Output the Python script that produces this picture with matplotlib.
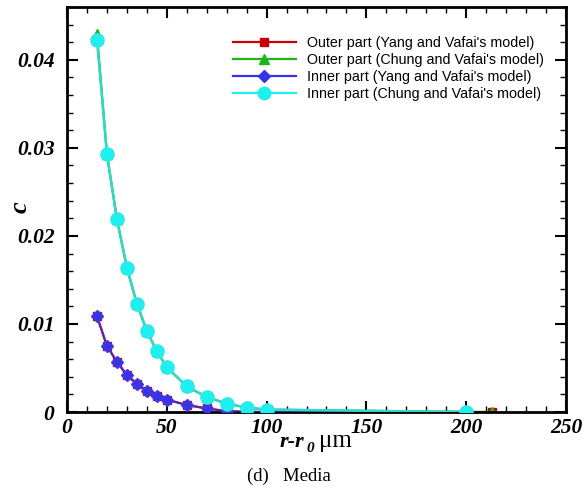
import matplotlib
matplotlib.use("Agg")
import matplotlib.pyplot as plt
from matplotlib.lines import Line2D
from matplotlib.ticker import MultipleLocator, FuncFormatter

# ---- data ----
x_inner_yang = [15, 20, 25, 30, 35, 40, 45, 50, 60, 70, 80, 90, 100, 200]
c_inner_yang = [0.0109, 0.0075, 0.0057, 0.0042, 0.0032, 0.0024, 0.0018, 0.0014,
                0.0008, 0.0004, 0.0001, 0.00002, 0.0, 0.0]
x_outer_yang = [15, 20, 25, 30, 35, 40, 45, 50, 60, 70, 80, 90, 100, 200, 213]
c_outer_yang = [0.0109, 0.0075, 0.0057, 0.0042, 0.0032, 0.0024, 0.0018, 0.0014,
                0.0008, 0.0004, 0.0001, 0.00002, 0.0, 0.0, 0.0]
x_inner_chung = [15, 20, 25, 30, 35, 40, 45, 50, 60, 70, 80, 90, 100, 200]
c_inner_chung = [0.0423, 0.0293, 0.0219, 0.0164, 0.0123, 0.0092, 0.0069, 0.0051,
                 0.0029, 0.0017, 0.00095, 0.0005, 0.00027, 0.0]
x_outer_chung = [15, 20, 25, 30, 35, 40, 45, 50, 60, 70, 80, 90, 100, 200, 213]
c_outer_chung = [0.0429, 0.0293, 0.0219, 0.0164, 0.0123, 0.0092, 0.0069, 0.0051,
                 0.0029, 0.0017, 0.00095, 0.0005, 0.00027, 0.0, 0.0]

labels = ["Outer part (Yang and Vafai's model)",
          "Outer part (Chung and Vafai's model)",
          "Inner part (Yang and Vafai's model)",
          "Inner part (Chung and Vafai's model)"]
colors = ["#c80000", "#1eb41e", "#3a32e6", "#1ef0f0"]

W, H = 586, 496
fig = plt.figure(figsize=(W / 100, H / 100), dpi=100)
ax = fig.add_axes([67 / W, 1 - 412 / H, (566 - 67) / W, (412 - 7) / H])

ax.plot(x_outer_yang, c_outer_yang, color=colors[0], lw=1.6, marker="s", ms=6, zorder=2)
ax.plot(x_outer_chung, c_outer_chung, color=colors[1], lw=1.6, marker="^", ms=7, zorder=2.5)
ax.plot(x_inner_yang, c_inner_yang, color=colors[2], lw=1.6, alpha=0.75, zorder=3)
ax.plot(x_inner_yang, c_inner_yang, ls="none", marker="D", ms=6.5, color=colors[2],
        markeredgecolor="#3c3ce8", zorder=4)
ax.plot(x_inner_chung, c_inner_chung, color="#30d8c8", lw=1.8, zorder=3)
ax.plot(x_inner_chung, c_inner_chung, ls="none", marker="o", ms=9.5, color=colors[3],
        markeredgecolor="#30e8e8", zorder=4)

ax.set_xlim(0, 250)
ax.set_ylim(0, 0.046)
ax.xaxis.set_major_locator(MultipleLocator(50))
ax.xaxis.set_minor_locator(MultipleLocator(10))
ax.yaxis.set_major_locator(MultipleLocator(0.01))
ax.yaxis.set_minor_locator(MultipleLocator(0.002))

def yfmt(v, pos):
    if abs(v) < 1e-12:
        return "0"
    return "%.2f" % v

ax.yaxis.set_major_formatter(FuncFormatter(yfmt))
ax.xaxis.set_major_formatter(FuncFormatter(lambda v, p: "%d" % v))

ax.tick_params(which="both", direction="in", top=True, right=True, color="black")
ax.tick_params(which="major", length=8, width=1.5)
ax.tick_params(axis="y", which="major", pad=9)
ax.tick_params(axis="x", which="major", pad=4)
ax.tick_params(which="minor", length=4, width=1.0)
for lab in ax.get_xticklabels() + ax.get_yticklabels():
    lab.set_fontfamily("Liberation Serif")
    lab.set_fontweight("bold")
    lab.set_fontstyle("italic")
    lab.set_fontsize(15.5)
for sp in ax.spines.values():
    sp.set_linewidth(2)

# y label
fig.text(20 / W, 1 - 207 / H, "c", fontfamily="Liberation Serif", fontweight="bold",
         fontstyle="italic", fontsize=19, rotation=90, va="center", ha="center")

handles = [Line2D([], [], color=colors[0], lw=1.6, marker="s", ms=6),
           Line2D([], [], color=colors[1], lw=1.6, marker="^", ms=6.5),
           Line2D([], [], color=colors[2], lw=1.6, marker="D", ms=6),
           Line2D([], [], color=colors[3], lw=1.6, marker="o", ms=9)]
leg = ax.legend(handles, labels, loc="upper right", bbox_to_anchor=(0.975, 0.953),
                frameon=False, prop={"family": "Liberation Sans", "size": 10.3},
                handlelength=4.4, handletextpad=0.75, labelspacing=0.22,
                borderpad=0.2)

# x label pieces
fig.text(280 / W, 1 - 447 / H, "r-r", fontfamily="Liberation Serif", fontweight="bold",
         fontstyle="italic", fontsize=16, va="baseline", ha="left")
fig.text(306 / W, 1 - 452 / H, "0", fontfamily="Liberation Serif", fontweight="bold",
         fontstyle="italic", fontsize=11, va="baseline", ha="left")
fig.text(319 / W, 1 - 447 / H, "\u03bcm", fontfamily="Liberation Serif",
         fontsize=18, va="baseline", ha="left")

fig.text(289 / W, 1 - 476 / H, "(d)   Media", fontfamily="Liberation Serif",
         fontsize=13.5, va="center", ha="center")

fig.savefig("out.png", dpi=100)
